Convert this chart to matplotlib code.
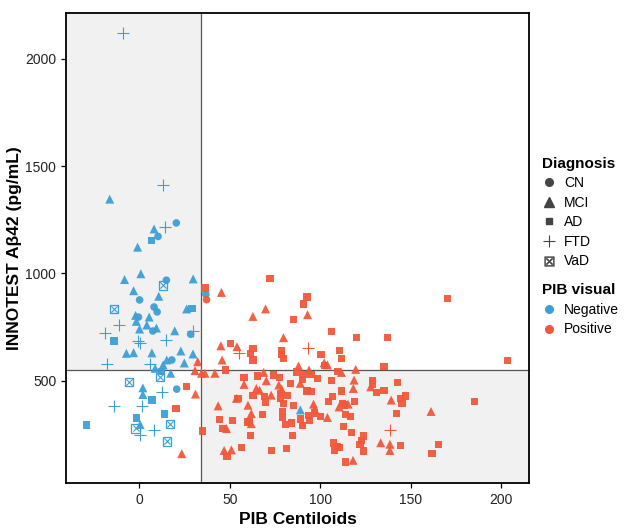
import matplotlib
matplotlib.use("Agg")
import matplotlib.pyplot as plt
from matplotlib.lines import Line2D
from matplotlib.patches import Rectangle

plt.rcParams['font.family'] = ['Liberation Sans', 'DejaVu Sans']

# ---------------- data ----------------
neg_cn_x = [20.5, 10.4, 15, 0.2, 8.2, 9.9, -0.4, 7.5, 28.4, 18, 20.7, 36.8]
neg_cn_y = [1235, 1172, 968, 876, 843, 820, 796, 731, 716, 596, 460, 902]

neg_mci_x = [-16.3, 8.2, -0.9, -8.1, 0.9, 29.8, -3.1, 10.8, 26.2, -2, 5.5, -1.6, 4.2, 0.2, 9.5,
             19.6, -7.1, -3.1, 7, 23, 29.7, 15.2, 24.9, 13.2, 8.8, 17.4, 2, 2, 0.5, 89]
neg_mci_y = [1346, 1207, 1122, 971, 998, 974, 919, 893, 834, 804, 796, 776, 759, 740, 745,
             732, 627, 630, 629, 638, 624, 596, 582, 573, 557, 534, 466, 435, 295, 363]

neg_ad_x = [6.6, 29.1, -13.9, 12.1, 7.1, 13.9, -29, -1.3]
neg_ad_y = [1152, 836, 684, 541, 409, 344, 293, 325]

neg_ftd_x = [-9, 13, 14, -11.4, -19.1, -0.9, 0.5, 14.7, 29.7, -17.7, 6, 12.5, -13.7, 1.6, 7.9, 0.5]
neg_ftd_y = [2120, 1410, 1215, 760, 724, 686, 676, 690, 731, 576, 577, 445, 382, 379, 271, 245]

neg_vad_x = [13, -14.1, -5.7, 11.5, -2, 17, 15.2]
neg_vad_y = [944, 834, 492, 518, 277, 296, 216]

pos_cn_x = [37.2]
pos_cn_y = [877]

pos_mci_x = [45.4, 69.8, 62.8, 93, 79.7, 45.1, 54, 45.8, 32.3, 88, 30.8, 34.4, 36.3, 41.8, 68.8,
             31.1, 23.5, 57.9, 70.2, 77.1, 89, 64.7, 66.5, 72.9, 78.7, 53.7, 60.1, 43.6, 61.9,
             61.9, 48.2, 46.9, 50.9, 102.2, 104, 93.8, 119.6, 111.7, 118.7, 127.9, 118.3, 139.2,
             110.4, 115.4, 96.3, 97, 104, 133.4, 138.5, 138.5, 118.1, 161.2]
pos_mci_y = [911, 834, 799, 807, 700, 662, 658, 596, 588, 568, 546, 534, 534, 534, 538,
             437, 159, 482, 499, 479, 487, 463, 455, 432, 460, 417, 385, 382, 346,
             299, 276, 174, 177, 583, 573, 549, 552, 538, 502, 471, 463, 409,
             377, 390, 390, 365, 328, 210, 203, 174, 128, 356]

pos_ad_x = [72.3, 36.3, 92.7, 90.7, 85.2, 50.5, 62.8, 61.5, 62.8, 78.7, 78.7, 79.8, 47.6, 26, 20.3,
            35, 57.9, 65.5, 74.2, 83.4, 93, 62.8, 69.2, 78, 82, 54.6, 69.8, 78, 79.8, 85.3, 68.3,
            79, 79, 93.4, 89, 44.5, 51.5, 59.7, 61, 80.8, 84.2, 90.3, 46.3, 61.5, 84.8, 48.5,
            56.4, 73.2, 81.5, 77.5, 87, 91, 95, 90, 106.4, 120.2, 137.2, 100.4, 110.8, 111.7,
            102.5, 135.2, 109.5, 98.5, 106.4, 128.7, 129, 142.9, 111.9, 131.1, 135.2, 92.7, 95.2,
            147.1, 144.3, 145.2, 104.4, 106.8, 112.3, 113.2, 119.1, 96.7, 114.1, 116.9, 100, 94,
            142.1, 112.8, 117.4, 123.8, 122.7, 107.3, 109.5, 108.1, 110.4, 122, 123.8, 144.3,
            114.1, 170.2, 203.5, 185.3, 165.4, 161.7]
pos_ad_y = [976, 932, 890, 857, 783, 674, 651, 627, 596, 640, 623, 602, 549, 471, 368,
            265, 513, 521, 526, 487, 455, 432, 424, 440, 432, 417, 396, 417, 393, 382, 342,
            354, 328, 338, 321, 320, 315, 307, 310, 295, 302, 291, 276, 245, 245, 146,
            187, 174, 182, 515, 540, 528, 530, 505, 727, 700, 700, 623, 640, 604,
            569, 565, 541, 510, 499, 499, 484, 490, 451, 445, 452, 451, 448,
            428, 417, 393, 401, 424, 393, 386, 401, 349, 343, 334, 331, 312,
            346, 287, 256, 241, 221, 209, 190, 174, 187, 201, 171, 198,
            120, 882, 595, 402, 201, 159]

pos_ftd_x = [55.1, 93, 138.5]
pos_ftd_y = [627, 651, 268]

x_cut = 34
y_cut = 551
x_ticks = [0, 50, 100, 150, 200]
y_ticks = [500, 1000, 1500, 2000]

# ---------------- style ----------------
BLUE = '#3d9fd6'
RED = '#f2573b'
GREY_MK = '#454545'

fig = plt.figure(figsize=(6.4, 5.32), dpi=100)
ax = fig.add_axes([0.103, 0.092, 0.724, 0.884])
xlim = (-40.5, 215.5)
ylim = (22, 2215)
ax.set_xlim(*xlim)
ax.set_ylim(*ylim)

# shaded quadrants
ax.add_patch(Rectangle((xlim[0], y_cut), x_cut - xlim[0], ylim[1] - y_cut,
                       facecolor='#f1f1f1', edgecolor='none', zorder=0))
ax.add_patch(Rectangle((x_cut, ylim[0]), xlim[1] - x_cut, y_cut - ylim[0],
                       facecolor='#f1f1f1', edgecolor='none', zorder=0))
ax.axvline(x_cut, color='#555555', lw=0.9, zorder=1)
ax.axhline(y_cut, color='#555555', lw=0.9, zorder=1)

def draw(xs, ys, color, kind):
    if kind == 'CN':
        ax.scatter(xs, ys, marker='o', s=30, color=color, edgecolors='none', alpha=0.95, zorder=3)
    elif kind == 'MCI':
        ax.scatter(xs, ys, marker='^', s=42, color=color, edgecolors='none', alpha=0.95, zorder=3)
    elif kind == 'AD':
        ax.scatter(xs, ys, marker='s', s=27, color=color, edgecolors='none', alpha=0.95, zorder=3)
    elif kind == 'FTD':
        ax.scatter(xs, ys, marker='+', s=85, color=color, linewidths=0.8, zorder=3)
    elif kind == 'VaD':
        ax.scatter(xs, ys, marker='s', s=36, facecolors='none', edgecolors=color, linewidths=0.9, zorder=3)
        ax.scatter(xs, ys, marker='x', s=20, color=color, linewidths=0.8, zorder=3)

draw(neg_cn_x, neg_cn_y, BLUE, 'CN')
draw(neg_mci_x, neg_mci_y, BLUE, 'MCI')
draw(neg_ad_x, neg_ad_y, BLUE, 'AD')
draw(neg_ftd_x, neg_ftd_y, BLUE, 'FTD')
draw(neg_vad_x, neg_vad_y, BLUE, 'VaD')
draw(pos_cn_x, pos_cn_y, RED, 'CN')
draw(pos_mci_x, pos_mci_y, RED, 'MCI')
draw(pos_ad_x, pos_ad_y, RED, 'AD')
draw(pos_ftd_x, pos_ftd_y, RED, 'FTD')

ax.set_xticks(x_ticks)
ax.set_yticks(y_ticks)
ax.tick_params(axis='both', direction='out', length=3.5, width=0.9, colors='black',
               labelsize=10, labelcolor='#222222')
for sp in ax.spines.values():
    sp.set_linewidth(1.3)
    sp.set_color('black')
ax.set_xlabel('PIB Centiloids', fontsize=12.5, fontweight='bold', labelpad=4)
ax.set_ylabel('INNOTEST Aβ42 (pg/mL)', fontsize=12.5, fontweight='bold', labelpad=2)

# legends
diag_handles = [
    Line2D([], [], marker='o', ls='none', color=GREY_MK, markersize=5.5),
    Line2D([], [], marker='^', ls='none', color=GREY_MK, markersize=6.5),
    Line2D([], [], marker='s', ls='none', color=GREY_MK, markersize=5),
    Line2D([], [], marker='+', ls='none', color=GREY_MK, markersize=9, markeredgewidth=0.8),
    Line2D([], [], marker='$\\boxtimes$', ls='none', color=GREY_MK, markersize=7, markeredgewidth=0.3),
]
leg1 = fig.legend(diag_handles, ['CN', 'MCI', 'AD', 'FTD', 'VaD'], title='Diagnosis',
                  loc='upper left', bbox_to_anchor=(0.838, 0.716), frameon=False,
                  fontsize=10, title_fontproperties={'weight': 'bold', 'size': 11},
                  handlelength=1.0, handletextpad=0.6, labelspacing=0.4, borderaxespad=0)
leg1._legend_box.align = 'left'
vis_handles = [
    Line2D([], [], marker='o', ls='none', color=BLUE, markersize=5.5),
    Line2D([], [], marker='o', ls='none', color=RED, markersize=5.5),
]
leg2 = fig.legend(vis_handles, ['Negative', 'Positive'], title='PIB visual',
                  loc='upper left', bbox_to_anchor=(0.838, 0.478), frameon=False,
                  fontsize=10, title_fontproperties={'weight': 'bold', 'size': 11},
                  handlelength=1.0, handletextpad=0.6, labelspacing=0.4, borderaxespad=0)
leg2._legend_box.align = 'left'

fig.savefig('out.png', dpi=100)
